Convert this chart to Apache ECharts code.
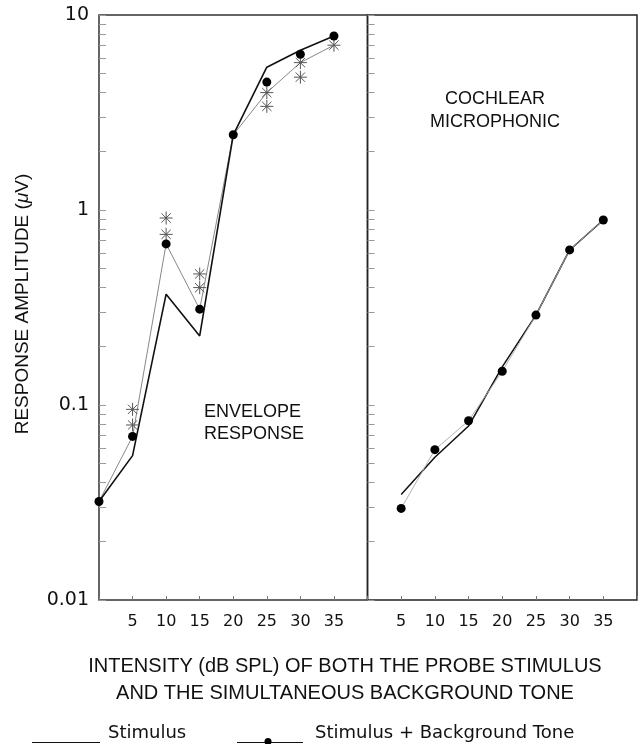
<!DOCTYPE html>
<html>
<head>
<meta charset="utf-8">
<script src="https://cdn.jsdelivr.net/npm/echarts@6/dist/echarts.min.js"></script>
<style>
  html, body { margin: 0; padding: 0; background: #fff; }
  #chart { width: 640px; height: 744px; }
</style>
</head>
<body>
<div id="chart"></div>
<script>
// Envelope response (left panel), intensity in dB SPL, amplitude in µV
const intensity = [0, 5, 10, 15, 20, 25, 30, 35];
const envStimulus = [0.032, 0.055, 0.37, 0.226, 2.43, 5.4, 6.6, 7.8];
const envBackground = [0.032, 0.069, 0.67, 0.31, 2.43, 4.53, 6.29, 7.8];
const envTrend = [0.032, 0.069, 0.67, 0.31, 2.43, 4.0, 5.7, 7.0];
// individual repeat measurements (asterisks)
const envRepeatX = [5, 5, 10, 10, 15, 15, 25, 25, 30, 30, 35];
const envRepeatY = [0.095, 0.079, 0.91, 0.75, 0.47, 0.40, 4.0, 3.4, 5.7, 4.8, 7.0];

// Cochlear microphonic (right panel)
const cmIntensity = [5, 10, 15, 20, 25, 30, 35];
const cmStimulus = [0.0348, 0.054, 0.078, 0.157, 0.289, 0.624, 0.889];
const cmBackground = [0.0295, 0.059, 0.083, 0.149, 0.289, 0.624, 0.889];

// axis ticks
const yTickLabels = [0.01, 0.1, 1, 10];
const xTickLabels = [5, 10, 15, 20, 25, 30, 35];

const zip = (xs, ys) => xs.map((x, i) => [x, ys[i]]);

// minor ticks at 1..9 × each decade, expressed as log10 positions
const minorTickPos = [];
for (let d = -2; d <= 1; d++) {
  for (let k = 1; k <= 9; k++) {
    const v = k * Math.pow(10, d);
    if (v <= 10.0001) minorTickPos.push(Math.log10(v));
  }
}

const asterisk = 'path://M0 7L14 7M7 0L7 14M2 2L12 12M12 2L2 12';
const sans = 'Liberation Sans';
const wide = 'DejaVu Sans';

function xAxisFor(gridIndex) {
  return {
    type: 'value', gridIndex, min: 0, max: 40, interval: 5,
    axisLine: { show: false, onZero: false },
    splitLine: { show: false },
    axisTick: { inside: true, length: 4, lineStyle: { color: '#777', width: 1 } },
    axisLabel: {
      margin: 14, fontFamily: wide, fontSize: 16, color: '#111',
      formatter: v => (xTickLabels.includes(v) ? String(v) : '')
    }
  };
}

function logAxisFor(gridIndex, showLabels) {
  return {
    type: 'log', logBase: 10, gridIndex, min: 0.01, max: 10,
    axisLine: { show: false },
    splitLine: { show: false },
    axisTick: { show: false },
    axisLabel: {
      show: showLabels, margin: 10, fontFamily: wide, fontSize: 19, color: '#111',
      formatter: v => {
        const t = yTickLabels.find(t => Math.abs(Math.log10(t) - Math.log10(v)) < 1e-6);
        return t === undefined ? '' : String(t);
      }
    }
  };
}

function tickAxisFor(gridIndex) {
  return {
    type: 'value', gridIndex, min: -2, max: 1, position: 'left',
    axisLine: { show: false, onZero: false },
    splitLine: { show: false },
    axisLabel: { show: false },
    axisTick: {
      show: true, inside: true, length: 7, customValues: minorTickPos,
      lineStyle: { color: '#999', width: 1 }
    }
  };
}

const option = {
  animation: false,
  backgroundColor: '#fff',
  grid: [
    { left: 99, top: 15, width: 268.5, height: 585, show: true, borderColor: '#333', borderWidth: 1.5, backgroundColor: 'transparent' },
    { left: 367.5, top: 15, width: 270.5, height: 585, show: true, borderColor: '#222', borderWidth: 1.5, backgroundColor: 'transparent' }
  ],
  xAxis: [xAxisFor(0), xAxisFor(1)],
  yAxis: [logAxisFor(0, true), logAxisFor(1, false), tickAxisFor(0), tickAxisFor(1)],
  series: [
    {
      name: 'Stimulus', type: 'line', xAxisIndex: 0, yAxisIndex: 0,
      data: zip(intensity, envStimulus), symbol: 'none',
      lineStyle: { color: '#111', width: 1.6 }, z: 3
    },
    {
      name: 'Trend', type: 'line', xAxisIndex: 0, yAxisIndex: 0,
      data: zip(intensity, envTrend), symbol: 'none',
      lineStyle: { color: '#888', width: 1 }, z: 2
    },
    {
      name: 'Repeats', type: 'scatter', xAxisIndex: 0, yAxisIndex: 0,
      data: zip(envRepeatX, envRepeatY), symbol: asterisk, symbolSize: 13,
      itemStyle: { color: 'none', borderColor: '#555', borderWidth: 1, opacity: 1 }, z: 4
    },
    {
      name: 'Stimulus + Background Tone', type: 'scatter', xAxisIndex: 0, yAxisIndex: 0,
      data: zip(intensity, envBackground), symbol: 'circle', symbolSize: 9,
      itemStyle: { color: '#000', opacity: 1 }, z: 5
    },
    {
      name: 'Stimulus', type: 'line', xAxisIndex: 1, yAxisIndex: 1,
      data: zip(cmIntensity, cmStimulus), symbol: 'none',
      lineStyle: { color: '#111', width: 1.5 }, z: 3
    },
    {
      name: 'Stimulus + Background Tone', type: 'line', xAxisIndex: 1, yAxisIndex: 1,
      data: zip(cmIntensity, cmBackground), symbol: 'circle', symbolSize: 9,
      showSymbol: true,
      itemStyle: { color: '#000', opacity: 1 },
      lineStyle: { color: '#aaa', width: 0.9 }, z: 4
    }
  ],
  graphic: [
    {
      type: 'text', x: 23, y: 304, rotation: Math.PI / 2,
      style: {
        text: 'RESPONSE AMPLITUDE ({mu|μ}V)',
        rich: { mu: { fontFamily: sans, fontSize: 19, fontStyle: 'italic', fill: '#111' } },
        fontFamily: sans, fontSize: 19, fill: '#111',
        textAlign: 'center', textVerticalAlign: 'middle'
      }
    },
    {
      type: 'text', x: 345, y: 680,
      style: {
        text: 'INTENSITY (dB SPL) OF BOTH THE PROBE STIMULUS\nAND THE SIMULTANEOUS BACKGROUND TONE',
        fontFamily: sans, fontSize: 20, lineHeight: 27, fill: '#111',
        textAlign: 'center', textVerticalAlign: 'middle'
      }
    },
    {
      type: 'text', x: 204, y: 423,
      style: {
        text: 'ENVELOPE\nRESPONSE', fontFamily: sans, fontSize: 18, lineHeight: 22, fill: '#111',
        textAlign: 'left', textVerticalAlign: 'middle'
      }
    },
    {
      type: 'text', x: 495, y: 111,
      style: {
        text: 'COCHLEAR\nMICROPHONIC', fontFamily: sans, fontSize: 18, lineHeight: 23, fill: '#111',
        textAlign: 'center', textVerticalAlign: 'middle'
      }
    },
    // legend
    { type: 'line', shape: { x1: 32, y1: 742.5, x2: 100, y2: 742.5 }, style: { stroke: '#111', lineWidth: 1.2 } },
    {
      type: 'text', x: 108, y: 733,
      style: { text: 'Stimulus', fontFamily: wide, fontSize: 18, fill: '#111', textAlign: 'left', textVerticalAlign: 'middle' }
    },
    { type: 'line', shape: { x1: 237, y1: 742.5, x2: 303, y2: 742.5 }, style: { stroke: '#111', lineWidth: 1.2 } },
    { type: 'circle', shape: { cx: 268, cy: 741.5, r: 3.5 }, style: { fill: '#000' } },
    {
      type: 'text', x: 315, y: 733,
      style: { text: 'Stimulus + Background Tone', fontFamily: wide, fontSize: 18, fill: '#111', textAlign: 'left', textVerticalAlign: 'middle' }
    }
  ]
};

const chart = echarts.init(document.getElementById('chart'), null, { renderer: 'canvas' });
chart.setOption(option);
</script>
</body>
</html>
